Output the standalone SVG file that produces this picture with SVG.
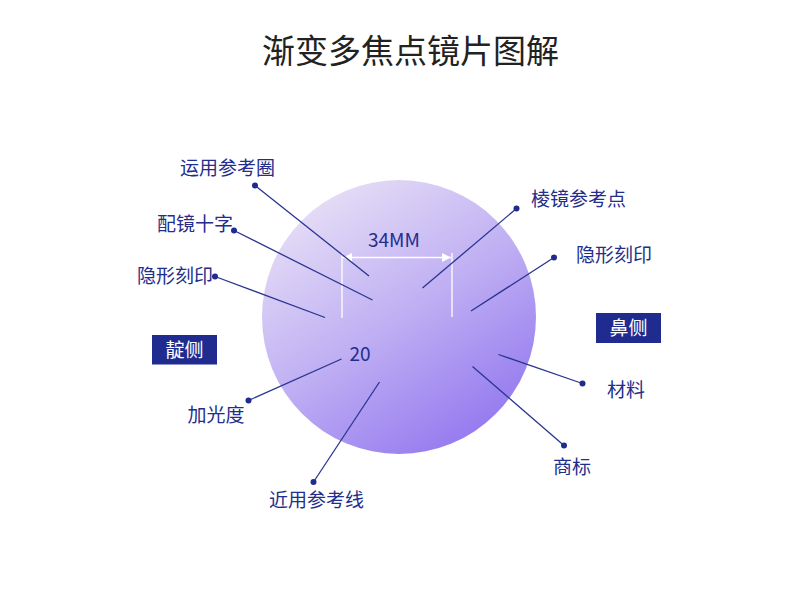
<svg xmlns="http://www.w3.org/2000/svg" width="790" height="611" viewBox="0 0 790 611">
<defs>
<linearGradient id="lens" x1="0.2" y1="0.05" x2="0.8" y2="0.95">
<stop offset="0" stop-color="#e6def6"/>
<stop offset="0.5" stop-color="#bfaff3"/>
<stop offset="1" stop-color="#9378ef"/>
</linearGradient>
<marker id="ah" viewBox="0 0 10 10" refX="10" refY="5" markerWidth="9" markerHeight="9" markerUnits="userSpaceOnUse" orient="auto-start-reverse">
<path d="M0,0 L10,5 L0,10 z" fill="#ffffff"/>
</marker>
</defs>
<style>
.lbl{font-family:"Noto Sans CJK SC","Noto Sans",sans-serif;font-size:19px;fill:#232e8c}
.tag{font-family:"Noto Sans CJK SC","Noto Sans",sans-serif;font-size:19px;fill:#ffffff;text-anchor:middle}
.box{fill:#1f2b8f}
.ln{stroke:#2a3591;stroke-width:1.3;fill:none}
.dot{fill:#1f2b8f}
.dim{stroke:#ffffff;stroke-width:1.3;fill:none}
</style>
<rect width="790" height="611" fill="#ffffff"/>
<text x="410.5" y="62.5" text-anchor="middle" font-family="'Noto Sans CJK SC','Noto Sans',sans-serif" font-size="33" fill="#222222">渐变多焦点镜片图解</text>
<g id="lens-circle">
<circle cx="399" cy="317" r="137" fill="url(#lens)"/>
</g>
<g id="dimension">
<line class="dim" x1="342" y1="253" x2="342" y2="318"/>
<line class="dim" x1="452" y1="253" x2="452" y2="317"/>
<line class="dim" x1="343" y1="257.5" x2="451" y2="257.5" marker-start="url(#ah)" marker-end="url(#ah)"/>
<text class="lbl" x="368" y="247">34MM</text>
<text class="lbl" x="349.5" y="361" font-size="19.5">20</text>
</g>
<g id="connectors">
<line class="ln" x1="255" y1="185.5" x2="369" y2="276"/>
<line class="ln" x1="234" y1="230.5" x2="372.5" y2="300"/>
<line class="ln" x1="215" y1="276.5" x2="325" y2="317.5"/>
<line class="ln" x1="516.5" y1="208.5" x2="422.5" y2="288"/>
<line class="ln" x1="554" y1="257.5" x2="471" y2="311"/>
<line class="ln" x1="248.5" y1="400.5" x2="341.5" y2="359"/>
<line class="ln" x1="313.5" y1="482" x2="379.5" y2="382"/>
<line class="ln" x1="582.5" y1="383.5" x2="498.5" y2="354.5"/>
<line class="ln" x1="564" y1="445.5" x2="472.5" y2="366.5"/>
<circle class="dot" cx="255" cy="185.5" r="3"/>
<circle class="dot" cx="234" cy="230.5" r="3"/>
<circle class="dot" cx="215" cy="276.5" r="3"/>
<circle class="dot" cx="516.5" cy="208.5" r="3"/>
<circle class="dot" cx="554" cy="257.5" r="3"/>
<circle class="dot" cx="248.5" cy="400.5" r="3"/>
<circle class="dot" cx="313.5" cy="482" r="3"/>
<circle class="dot" cx="582.5" cy="383.5" r="3"/>
<circle class="dot" cx="564" cy="445.5" r="3"/>
</g>
<g id="n-yunyong"><text class="lbl" x="180" y="175">运用参考圈</text></g>
<g id="n-peijing"><text class="lbl" x="157" y="231">配镜十字</text></g>
<g id="n-yinxing-l"><text class="lbl" x="137" y="283">隐形刻印</text></g>
<g id="n-lengjing"><text class="lbl" x="531" y="206">棱镜参考点</text></g>
<g id="n-yinxing-r"><text class="lbl" x="576" y="261.5">隐形刻印</text></g>
<g id="n-jiaguang"><text class="lbl" x="187.5" y="422">加光度</text></g>
<g id="n-jinyong"><text class="lbl" x="269" y="506.5">近用参考线</text></g>
<g id="n-cailiao"><text class="lbl" x="607" y="397">材料</text></g>
<g id="n-shangbiao"><text class="lbl" x="553" y="474">商标</text></g>
<g id="n-bice">
<rect class="box" x="596" y="313" width="65" height="30"/>
<text class="tag" x="628.5" y="335">鼻侧</text>
</g>
<g id="n-dingce">
<rect class="box" x="152" y="335" width="65" height="29.5"/>
<text class="tag" x="184.5" y="356.5">靛侧</text>
</g>
</svg>
